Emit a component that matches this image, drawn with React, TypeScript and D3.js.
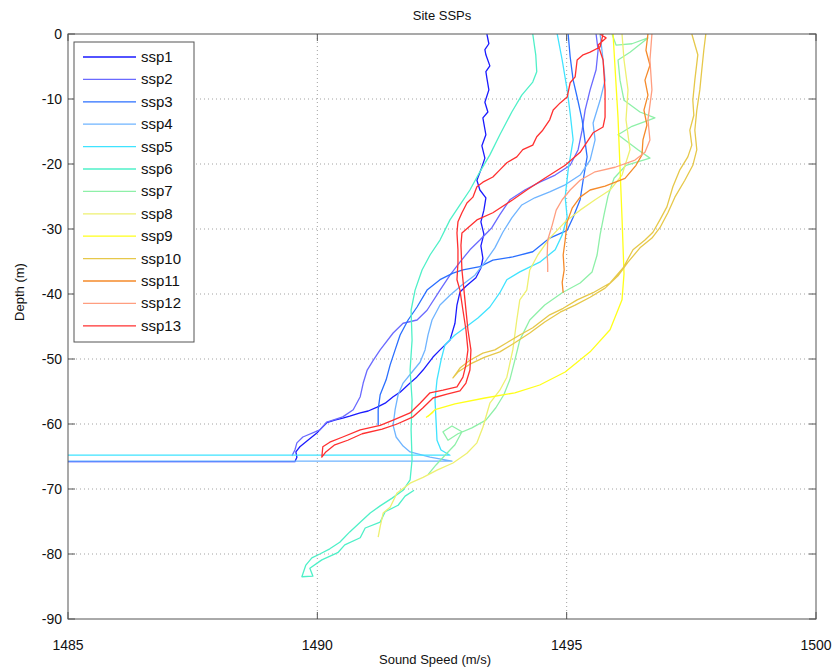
import React from "react";
import * as d3 from "d3";

type Pt = [number, number];

const title = "Site SSPs";
const xLabel = "Sound Speed (m/s)";
const yLabel = "Depth (m)";
const xTicks = [1485, 1490, 1495, 1500];
const yTicks = [0, -10, -20, -30, -40, -50, -60, -70, -80, -90];
const seriesNames = ["ssp1","ssp2","ssp3","ssp4","ssp5","ssp6","ssp7","ssp8","ssp9","ssp10","ssp11","ssp12","ssp13"];
const seriesColors = ["#1a1aff","#6a6aff","#2a6fff","#6fb4ff","#3fe3ff","#4ff0c8","#8ef0a8","#eef070","#ffff1a","#e6c84a","#f58a2a","#ff9e80","#ff3030"];

const ssp1: Pt[] = [[1493.40,0],[1493.44,-1.5],[1493.36,-2.4],[1493.38,-3.2],[1493.46,-4.9],[1493.38,-5.8],[1493.40,-6.8],[1493.44,-8.6],[1493.36,-10.5],[1493.42,-12.0],[1493.32,-12.9],[1493.34,-13.8],[1493.38,-15.5],[1493.30,-17.2],[1493.36,-19.1],[1493.28,-20.9],[1493.20,-22.5],[1493.26,-24.0],[1493.38,-25.2],[1493.34,-27.1],[1493.28,-28.9],[1493.34,-30.8],[1493.28,-32.6],[1493.32,-34.5],[1493.28,-36.0],[1493.18,-37.5],[1492.98,-38.8],[1492.86,-39.7],[1492.80,-41.7],[1492.76,-44.5],[1492.66,-47.1],[1492.46,-48.6],[1492.32,-49.7],[1492.12,-51.7],[1491.98,-52.9],[1491.86,-53.7],[1491.66,-55.1],[1491.52,-55.8],[1491.36,-56.8],[1491.20,-57.4],[1491.02,-58.0],[1490.86,-58.3],[1490.65,-58.8],[1490.51,-59.1],[1490.35,-59.4],[1490.19,-59.8],[1490.05,-60.9],[1489.99,-61.4],[1489.81,-62.5],[1489.65,-63.5],[1489.57,-64.3],[1489.59,-65.1],[1489.55,-65.8],[1470,-65.8]];
const ssp2: Pt[] = [[1495.59,0],[1495.63,-2.5],[1495.59,-5.5],[1495.47,-8.6],[1495.37,-11.7],[1495.31,-14.8],[1495.23,-17.8],[1495.07,-20.2],[1494.77,-21.7],[1494.46,-22.8],[1494.16,-24.0],[1493.86,-25.5],[1493.66,-27.8],[1493.50,-29.8],[1493.26,-31.7],[1493.06,-33.2],[1492.86,-35.1],[1492.66,-37.1],[1492.46,-39.4],[1492.20,-42.5],[1492.00,-44.0],[1491.72,-44.5],[1491.52,-46.0],[1491.26,-48.6],[1491.12,-50.2],[1491.00,-51.7],[1490.92,-53.7],[1490.86,-55.8],[1490.72,-57.8],[1490.51,-58.9],[1490.19,-59.7],[1490.05,-60.9],[1489.71,-62.0],[1489.59,-62.9],[1489.55,-64.0],[1489.49,-64.9]];
const ssp3: Pt[] = [[1495.03,0],[1495.07,-3.5],[1495.13,-7.1],[1495.21,-9.7],[1495.31,-13.2],[1495.41,-18.9],[1495.33,-22.5],[1495.27,-25.5],[1495.13,-28.2],[1495.01,-30.2],[1494.66,-31.4],[1494.32,-33.5],[1493.92,-34.3],[1493.52,-34.8],[1493.26,-35.8],[1492.92,-36.3],[1492.72,-36.8],[1492.46,-37.8],[1492.20,-39.4],[1492.00,-42.0],[1491.82,-44.0],[1491.66,-46.3],[1491.56,-48.6],[1491.46,-50.9],[1491.38,-53.2],[1491.26,-55.5],[1491.22,-57.8],[1491.22,-60.2]];
const ssp4: Pt[] = [[1495.67,0],[1495.73,-4.0],[1495.77,-7.1],[1495.67,-10.2],[1495.61,-11.7],[1495.53,-13.7],[1495.57,-16.3],[1495.47,-19.4],[1495.27,-21.7],[1494.97,-23.2],[1494.66,-24.3],[1494.36,-25.2],[1494.10,-26.3],[1493.90,-28.3],[1493.72,-30.5],[1493.56,-32.9],[1493.36,-35.1],[1493.16,-37.1],[1492.90,-38.6],[1492.66,-40.2],[1492.46,-41.7],[1492.30,-44.0],[1492.22,-46.3],[1492.16,-48.6],[1492.06,-50.5],[1491.90,-52.0],[1491.72,-53.7],[1491.62,-55.5],[1491.56,-57.8],[1491.52,-60.2],[1491.58,-62.0],[1491.72,-63.4],[1491.86,-64.3],[1492.26,-65.1],[1492.70,-65.7],[1470,-65.7]];
const ssp5: Pt[] = [[1494.81,0],[1494.91,-4.0],[1495.01,-8.6],[1495.07,-12.2],[1495.13,-16.3],[1495.03,-20.9],[1494.97,-25.1],[1495.01,-28.2],[1494.91,-30.9],[1494.77,-33.2],[1494.46,-35.1],[1494.06,-36.6],[1493.80,-37.8],[1493.66,-39.8],[1493.46,-42.0],[1493.22,-43.7],[1492.96,-45.2],[1492.76,-46.3],[1492.56,-47.8],[1492.48,-50.2],[1492.40,-53.2],[1492.36,-56.3],[1492.38,-59.4],[1492.40,-62.5],[1492.48,-64.0],[1492.66,-64.8],[1470,-64.8]];
const ssp6: Pt[] = [[1494.32,0],[1494.38,-3.2],[1494.40,-5.8],[1494.32,-7.4],[1494.10,-9.4],[1493.90,-12.0],[1493.66,-15.5],[1493.46,-18.6],[1493.26,-21.2],[1493.06,-24.0],[1492.86,-26.3],[1492.66,-28.6],[1492.46,-31.7],[1492.26,-34.0],[1492.10,-36.3],[1491.96,-39.4],[1491.88,-42.5],[1491.90,-47.1],[1491.86,-51.7],[1491.90,-56.3],[1491.88,-60.9],[1491.90,-65.5],[1491.86,-68.6],[1491.72,-70.2],[1491.50,-71.4],[1491.26,-72.6],[1491.06,-73.7],[1490.86,-75.1],[1490.65,-76.6],[1490.45,-78.2],[1490.25,-79.2],[1490.05,-80.0],[1489.89,-80.6],[1489.77,-81.7],[1489.69,-83.5],[1489.91,-83.4],[1489.85,-82.2],[1490.09,-80.9],[1490.41,-79.8],[1490.55,-78.6],[1490.86,-77.5],[1490.96,-76.0],[1491.26,-75.1],[1491.36,-73.5],[1491.62,-72.5],[1491.76,-71.1],[1491.94,-70.2]];
const ssp7: Pt[] = [[1495.91,0],[1495.99,-1.7],[1496.31,-1.5],[1496.63,-0.6],[1496.27,-2.8],[1496.03,-4.0],[1496.07,-7.1],[1496.15,-10.2],[1496.47,-12.0],[1496.77,-12.9],[1496.31,-14.2],[1496.03,-15.5],[1496.43,-17.8],[1496.67,-19.1],[1496.19,-20.2],[1495.95,-22.2],[1495.83,-24.9],[1495.75,-27.8],[1495.67,-30.9],[1495.61,-34.0],[1495.51,-36.6],[1495.27,-38.3],[1494.91,-39.8],[1494.56,-41.7],[1494.26,-44.0],[1494.06,-47.1],[1493.96,-50.2],[1493.86,-53.2],[1493.74,-55.5],[1493.58,-57.5],[1493.38,-59.4],[1493.10,-60.6],[1492.82,-61.5],[1492.62,-62.5],[1492.52,-61.2],[1492.70,-60.3],[1492.90,-61.2],[1492.76,-63.2],[1492.56,-64.8],[1492.38,-66.3],[1492.22,-67.8]];
const ssp8: Pt[] = [[1496.11,0],[1496.15,-4.0],[1496.23,-8.6],[1496.19,-13.2],[1496.27,-17.8],[1496.11,-21.7],[1495.87,-24.0],[1495.57,-25.5],[1495.27,-27.1],[1494.97,-28.9],[1494.66,-31.4],[1494.42,-34.0],[1494.26,-36.3],[1494.20,-39.4],[1494.06,-40.9],[1494.00,-44.0],[1493.92,-48.6],[1493.80,-52.8],[1493.66,-54.8],[1493.46,-56.8],[1493.32,-60.5],[1493.20,-62.9],[1493.00,-64.5],[1492.72,-66.0],[1492.40,-67.1],[1492.12,-68.2],[1491.86,-69.1],[1491.60,-70.6],[1491.46,-72.8],[1491.32,-73.7],[1491.26,-75.8],[1491.22,-77.4]];
const ssp9: Pt[] = [[1495.93,0],[1496.03,-12.9],[1496.11,-28.3],[1496.15,-36.9],[1496.11,-40.9],[1495.87,-45.5],[1495.47,-48.9],[1494.97,-52.0],[1494.46,-54.0],[1493.96,-55.2],[1493.36,-56.0],[1492.76,-56.9],[1492.36,-57.8],[1492.22,-58.8],[1492.32,-58.2],[1492.18,-59.0]];
const ssp10: Pt[] = [[1497.51,0],[1497.63,-3.2],[1497.57,-7.1],[1497.53,-10.2],[1497.55,-12.5],[1497.47,-14.8],[1497.51,-17.1],[1497.43,-18.9],[1497.27,-20.9],[1497.13,-23.5],[1497.01,-26.6],[1496.87,-28.6],[1496.73,-30.5],[1496.57,-31.7],[1496.33,-33.2],[1496.13,-36.0],[1495.87,-38.3],[1495.53,-39.8],[1495.21,-40.9],[1494.93,-42.2],[1494.66,-43.2],[1494.32,-45.2],[1494.06,-46.3],[1493.80,-47.5],[1493.56,-48.6],[1493.32,-49.1],[1493.06,-50.2],[1492.86,-51.4],[1492.72,-52.9],[1492.82,-52.0],[1493.06,-50.8],[1493.36,-49.7],[1493.66,-48.9],[1493.96,-47.5],[1494.26,-46.0],[1494.56,-44.3],[1494.87,-42.8],[1495.17,-41.7],[1495.47,-40.5],[1495.77,-39.1],[1496.03,-37.2],[1496.23,-35.1],[1496.47,-32.9],[1496.71,-31.4],[1496.87,-29.8],[1497.03,-27.5],[1497.17,-25.1],[1497.37,-22.5],[1497.53,-20.2],[1497.61,-17.8],[1497.57,-14.8],[1497.61,-11.7],[1497.67,-8.6],[1497.71,-5.5],[1497.75,-2.5],[1497.79,0]];
const ssp11: Pt[] = [[1496.63,0],[1496.59,-2.5],[1496.67,-4.8],[1496.57,-7.1],[1496.63,-9.4],[1496.55,-11.7],[1496.61,-14.0],[1496.53,-16.3],[1496.51,-18.6],[1496.39,-20.2],[1496.17,-22.2],[1495.77,-23.4],[1495.47,-24.0],[1495.27,-25.1],[1495.11,-26.8],[1495.01,-28.9],[1494.97,-31.7],[1494.93,-34.0],[1494.95,-36.3],[1494.91,-38.2],[1494.93,-39.8]];
const ssp12: Pt[] = [[1496.71,0],[1496.67,-4.0],[1496.71,-8.6],[1496.63,-13.2],[1496.67,-16.3],[1496.57,-18.2],[1496.37,-19.4],[1495.97,-20.5],[1495.57,-21.2],[1495.27,-22.5],[1495.07,-24.0],[1494.91,-25.5],[1494.79,-27.1],[1494.71,-29.4],[1494.62,-31.7],[1494.61,-34.0],[1494.62,-35.5],[1494.62,-36.6]];
const ssp13: Pt[] = [[1495.73,0],[1495.67,-2.0],[1495.47,-2.8],[1495.33,-3.2],[1495.21,-4.0],[1495.17,-6.6],[1495.07,-7.5],[1495.01,-9.7],[1494.87,-10.6],[1494.73,-11.7],[1494.66,-13.2],[1494.52,-14.8],[1494.40,-15.8],[1494.32,-17.1],[1494.12,-17.8],[1494.00,-18.9],[1493.80,-19.8],[1493.66,-20.9],[1493.52,-22.0],[1493.32,-22.8],[1493.20,-23.5],[1493.12,-25.1],[1493.00,-26.0],[1492.90,-27.5],[1492.82,-28.9],[1492.80,-30.6],[1492.82,-33.2],[1492.82,-35.2],[1492.80,-37.8],[1492.86,-39.4],[1492.92,-42.5],[1492.98,-45.5],[1493.02,-48.6],[1492.98,-50.9],[1492.92,-52.8],[1492.80,-54.3],[1492.52,-54.8],[1492.26,-55.2],[1492.06,-56.8],[1491.86,-58.3],[1491.52,-59.4],[1491.26,-60.2],[1490.86,-60.9],[1490.51,-62.0],[1490.25,-62.8],[1490.11,-63.5],[1490.09,-65.1],[1490.17,-64.3],[1490.35,-63.2],[1490.61,-62.5],[1490.90,-61.5],[1491.30,-60.8],[1491.60,-60.0],[1491.92,-58.9],[1492.12,-57.5],[1492.32,-56.0],[1492.60,-55.4],[1492.86,-54.9],[1492.98,-53.7],[1493.06,-51.7],[1493.08,-48.6],[1493.02,-45.5],[1492.96,-40.9],[1492.90,-36.3],[1492.88,-32.5],[1492.90,-30.6],[1493.20,-28.6],[1493.52,-27.5],[1493.92,-25.5],[1494.20,-24.0],[1494.56,-22.2],[1494.97,-20.2],[1495.27,-18.2],[1495.53,-15.2],[1495.73,-14.3],[1495.77,-12.8],[1495.77,-8.6],[1495.73,-4.0],[1495.63,-1.7],[1495.79,-0.6],[1495.67,0]];

const allSeries: Pt[][] = [ssp1, ssp2, ssp3, ssp4, ssp5, ssp6, ssp7, ssp8, ssp9, ssp10, ssp11, ssp12, ssp13];

const W = 834, H = 668;
const M = { left: 68, right: 816, top: 34, bottom: 619 };
const FONT = "'Liberation Sans', Arial, Helvetica, sans-serif";

export default function App() {
  const x = d3.scaleLinear().domain([1485, 1500]).range([M.left, M.right]);
  const y = d3.scaleLinear().domain([-90, 0]).range([M.bottom, M.top]);
  const line = d3.line<Pt>().x(d => x(d[0])).y(d => y(d[1]));
  const pw = M.right - M.left, ph = M.bottom - M.top;
  const legX = 74, legY = 42, legW = 120, legH = 300, legStep = 22.4;

  return (
    <svg width={W} height={H} style={{ position: "absolute", left: 0, top: 0, background: "#fff" }} fontFamily={FONT}>
      <defs>
        <clipPath id="plotclip">
          <rect x={M.left} y={M.top} width={pw} height={ph} />
        </clipPath>
      </defs>
      <rect x={0} y={0} width={W} height={H} fill="#fff" />
      {xTicks.slice(1, -1).map(t => (
        <line key={"gx" + t} x1={x(t)} x2={x(t)} y1={M.top} y2={M.bottom} stroke="#8a8a8a" strokeWidth={0.8} strokeDasharray="1,3" />
      ))}
      {yTicks.slice(1, -1).map(t => (
        <line key={"gy" + t} x1={M.left} x2={M.right} y1={y(t)} y2={y(t)} stroke="#8a8a8a" strokeWidth={0.8} strokeDasharray="1,3" />
      ))}
      <g clipPath="url(#plotclip)">
        {allSeries.map((s, i) => (
          <path key={seriesNames[i]} d={line(s) || ""} fill="none" stroke={seriesColors[i]} strokeWidth={1.3} strokeLinejoin="round" />
        ))}
      </g>
      <rect x={M.left} y={M.top} width={pw} height={ph} fill="none" stroke="#555" strokeWidth={1} />
      {xTicks.map(t => (
        <g key={"tx" + t}>
          <line x1={x(t)} x2={x(t)} y1={M.bottom} y2={M.bottom - 7} stroke="#555" />
          <line x1={x(t)} x2={x(t)} y1={M.top} y2={M.top + 7} stroke="#555" />
          <text x={x(t)} y={M.bottom + 31} textAnchor="middle" fontSize={14} fill="#111">{t}</text>
        </g>
      ))}
      {yTicks.map(t => (
        <g key={"ty" + t}>
          <line x1={M.left} x2={M.left + 7} y1={y(t)} y2={y(t)} stroke="#555" />
          <line x1={M.right} x2={M.right - 7} y1={y(t)} y2={y(t)} stroke="#555" />
          <text x={M.left - 6} y={y(t) + 5} textAnchor="end" fontSize={14} fill="#111">{t}</text>
        </g>
      ))}
      <text x={(M.left + M.right) / 2} y={20} textAnchor="middle" fontSize={13} fill="#111">{title}</text>
      <text x={435} y={664} textAnchor="middle" fontSize={13} fill="#111">{xLabel}</text>
      <text transform={`translate(24,292) rotate(-90)`} textAnchor="middle" fontSize={13} fill="#111">{yLabel}</text>
      <rect x={legX} y={legY} width={legW} height={legH} fill="#fff" stroke="#555" strokeWidth={1} />
      {seriesNames.map((n, i) => (
        <g key={"lg" + n}>
          <line x1={legX + 9} x2={legX + 62} y1={legY + 15 + i * legStep} y2={legY + 15 + i * legStep} stroke={seriesColors[i]} strokeWidth={1.3} />
          <text x={legX + 67} y={legY + 15 + i * legStep + 5} fontSize={15} fill="#111">{n}</text>
        </g>
      ))}
    </svg>
  );
}
